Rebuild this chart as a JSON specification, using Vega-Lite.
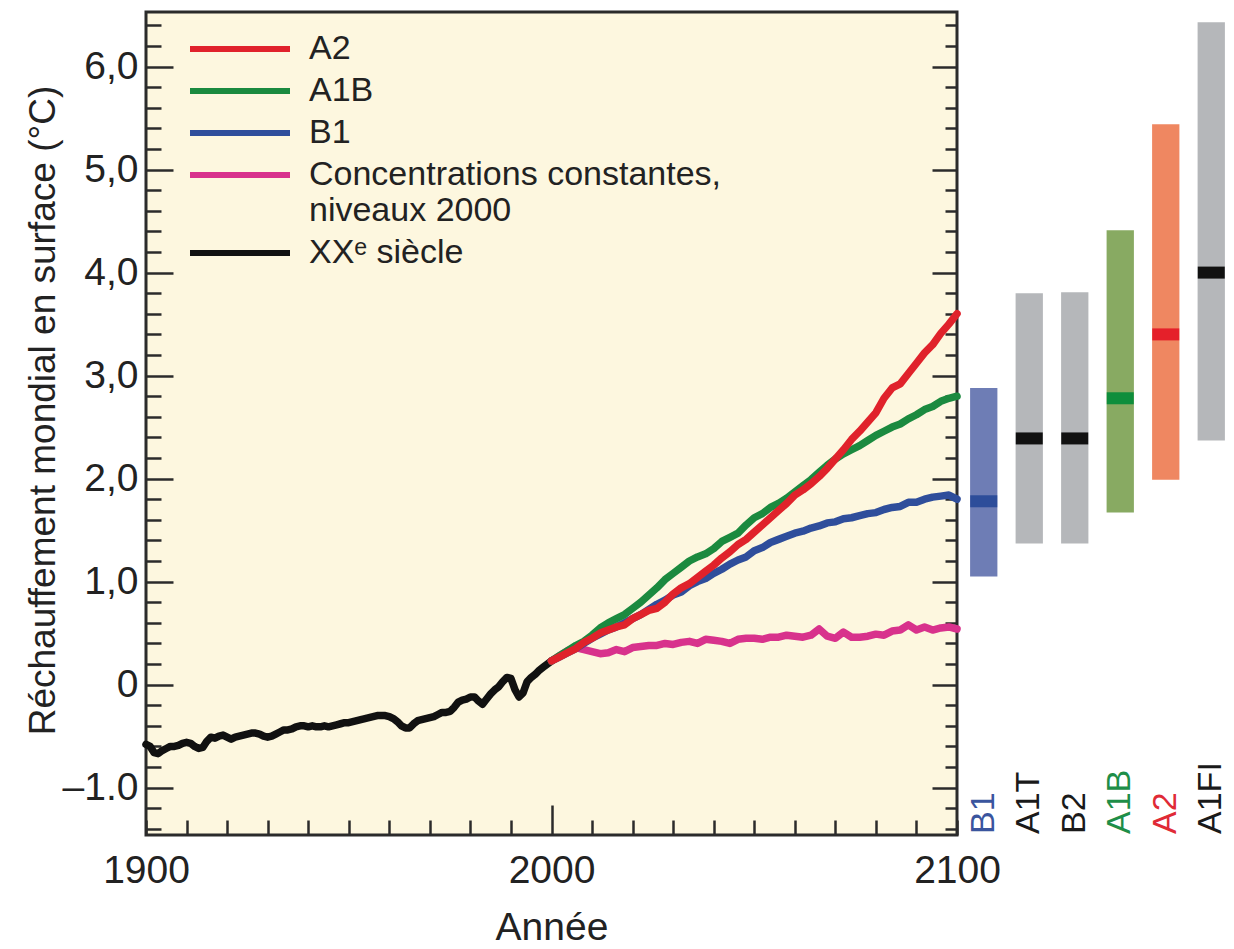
{
  "$schema": "https://vega.github.io/schema/vega-lite/v6.json",
  "background": "white",
  "padding": {"left": 22, "top": 4, "right": 0, "bottom": 0},
  "bounds": "flush",
  "spacing": 4,
  "config": {"font": "Liberation Sans", "view": {"stroke": null}},
  "resolve": {"scale": {"color": "independent", "y": "independent", "x": "independent"}},
  "datasets": {
    "scen": [
      {"scenario": "B1", "bas": 1.05, "haut": 2.88, "moyenne": 1.78},
      {"scenario": "A1T", "bas": 1.37, "haut": 3.80, "moyenne": 2.39},
      {"scenario": "B2", "bas": 1.37, "haut": 3.81, "moyenne": 2.39},
      {"scenario": "A1B", "bas": 1.67, "haut": 4.41, "moyenne": 2.78},
      {"scenario": "A2", "bas": 1.99, "haut": 5.44, "moyenne": 3.40},
      {"scenario": "A1FI", "bas": 2.37, "haut": 6.43, "moyenne": 4.00}
    ],
    "temp": [
      {"serie": "XXᵉ siècle", "annee": 1900, "valeur": -0.58},
      {"serie": "XXᵉ siècle", "annee": 1901, "valeur": -0.60},
      {"serie": "XXᵉ siècle", "annee": 1902, "valeur": -0.66},
      {"serie": "XXᵉ siècle", "annee": 1903, "valeur": -0.67},
      {"serie": "XXᵉ siècle", "annee": 1904, "valeur": -0.64},
      {"serie": "XXᵉ siècle", "annee": 1905, "valeur": -0.62},
      {"serie": "XXᵉ siècle", "annee": 1906, "valeur": -0.60},
      {"serie": "XXᵉ siècle", "annee": 1907, "valeur": -0.60},
      {"serie": "XXᵉ siècle", "annee": 1908, "valeur": -0.59},
      {"serie": "XXᵉ siècle", "annee": 1909, "valeur": -0.57},
      {"serie": "XXᵉ siècle", "annee": 1910, "valeur": -0.56},
      {"serie": "XXᵉ siècle", "annee": 1911, "valeur": -0.57},
      {"serie": "XXᵉ siècle", "annee": 1912, "valeur": -0.60},
      {"serie": "XXᵉ siècle", "annee": 1913, "valeur": -0.62},
      {"serie": "XXᵉ siècle", "annee": 1914, "valeur": -0.61},
      {"serie": "XXᵉ siècle", "annee": 1915, "valeur": -0.55},
      {"serie": "XXᵉ siècle", "annee": 1916, "valeur": -0.51},
      {"serie": "XXᵉ siècle", "annee": 1917, "valeur": -0.52},
      {"serie": "XXᵉ siècle", "annee": 1918, "valeur": -0.50},
      {"serie": "XXᵉ siècle", "annee": 1919, "valeur": -0.49},
      {"serie": "XXᵉ siècle", "annee": 1920, "valeur": -0.51},
      {"serie": "XXᵉ siècle", "annee": 1921, "valeur": -0.53},
      {"serie": "XXᵉ siècle", "annee": 1922, "valeur": -0.51},
      {"serie": "XXᵉ siècle", "annee": 1923, "valeur": -0.50},
      {"serie": "XXᵉ siècle", "annee": 1924, "valeur": -0.49},
      {"serie": "XXᵉ siècle", "annee": 1925, "valeur": -0.48},
      {"serie": "XXᵉ siècle", "annee": 1926, "valeur": -0.47},
      {"serie": "XXᵉ siècle", "annee": 1927, "valeur": -0.47},
      {"serie": "XXᵉ siècle", "annee": 1928, "valeur": -0.48},
      {"serie": "XXᵉ siècle", "annee": 1929, "valeur": -0.50},
      {"serie": "XXᵉ siècle", "annee": 1930, "valeur": -0.51},
      {"serie": "XXᵉ siècle", "annee": 1931, "valeur": -0.50},
      {"serie": "XXᵉ siècle", "annee": 1932, "valeur": -0.48},
      {"serie": "XXᵉ siècle", "annee": 1933, "valeur": -0.46},
      {"serie": "XXᵉ siècle", "annee": 1934, "valeur": -0.44},
      {"serie": "XXᵉ siècle", "annee": 1935, "valeur": -0.44},
      {"serie": "XXᵉ siècle", "annee": 1936, "valeur": -0.43},
      {"serie": "XXᵉ siècle", "annee": 1937, "valeur": -0.41},
      {"serie": "XXᵉ siècle", "annee": 1938, "valeur": -0.40},
      {"serie": "XXᵉ siècle", "annee": 1939, "valeur": -0.40},
      {"serie": "XXᵉ siècle", "annee": 1940, "valeur": -0.41},
      {"serie": "XXᵉ siècle", "annee": 1941, "valeur": -0.40},
      {"serie": "XXᵉ siècle", "annee": 1942, "valeur": -0.41},
      {"serie": "XXᵉ siècle", "annee": 1943, "valeur": -0.41},
      {"serie": "XXᵉ siècle", "annee": 1944, "valeur": -0.40},
      {"serie": "XXᵉ siècle", "annee": 1945, "valeur": -0.41},
      {"serie": "XXᵉ siècle", "annee": 1946, "valeur": -0.40},
      {"serie": "XXᵉ siècle", "annee": 1947, "valeur": -0.39},
      {"serie": "XXᵉ siècle", "annee": 1948, "valeur": -0.38},
      {"serie": "XXᵉ siècle", "annee": 1949, "valeur": -0.37},
      {"serie": "XXᵉ siècle", "annee": 1950, "valeur": -0.37},
      {"serie": "XXᵉ siècle", "annee": 1951, "valeur": -0.36},
      {"serie": "XXᵉ siècle", "annee": 1952, "valeur": -0.35},
      {"serie": "XXᵉ siècle", "annee": 1953, "valeur": -0.34},
      {"serie": "XXᵉ siècle", "annee": 1954, "valeur": -0.33},
      {"serie": "XXᵉ siècle", "annee": 1955, "valeur": -0.32},
      {"serie": "XXᵉ siècle", "annee": 1956, "valeur": -0.31},
      {"serie": "XXᵉ siècle", "annee": 1957, "valeur": -0.30},
      {"serie": "XXᵉ siècle", "annee": 1958, "valeur": -0.30},
      {"serie": "XXᵉ siècle", "annee": 1959, "valeur": -0.30},
      {"serie": "XXᵉ siècle", "annee": 1960, "valeur": -0.31},
      {"serie": "XXᵉ siècle", "annee": 1961, "valeur": -0.33},
      {"serie": "XXᵉ siècle", "annee": 1962, "valeur": -0.36},
      {"serie": "XXᵉ siècle", "annee": 1963, "valeur": -0.40},
      {"serie": "XXᵉ siècle", "annee": 1964, "valeur": -0.42},
      {"serie": "XXᵉ siècle", "annee": 1965, "valeur": -0.42},
      {"serie": "XXᵉ siècle", "annee": 1966, "valeur": -0.38},
      {"serie": "XXᵉ siècle", "annee": 1967, "valeur": -0.35},
      {"serie": "XXᵉ siècle", "annee": 1968, "valeur": -0.34},
      {"serie": "XXᵉ siècle", "annee": 1969, "valeur": -0.33},
      {"serie": "XXᵉ siècle", "annee": 1970, "valeur": -0.32},
      {"serie": "XXᵉ siècle", "annee": 1971, "valeur": -0.31},
      {"serie": "XXᵉ siècle", "annee": 1972, "valeur": -0.29},
      {"serie": "XXᵉ siècle", "annee": 1973, "valeur": -0.27},
      {"serie": "XXᵉ siècle", "annee": 1974, "valeur": -0.27},
      {"serie": "XXᵉ siècle", "annee": 1975, "valeur": -0.26},
      {"serie": "XXᵉ siècle", "annee": 1976, "valeur": -0.22},
      {"serie": "XXᵉ siècle", "annee": 1977, "valeur": -0.17},
      {"serie": "XXᵉ siècle", "annee": 1978, "valeur": -0.15},
      {"serie": "XXᵉ siècle", "annee": 1979, "valeur": -0.14},
      {"serie": "XXᵉ siècle", "annee": 1980, "valeur": -0.12},
      {"serie": "XXᵉ siècle", "annee": 1981, "valeur": -0.12},
      {"serie": "XXᵉ siècle", "annee": 1982, "valeur": -0.16},
      {"serie": "XXᵉ siècle", "annee": 1983, "valeur": -0.19},
      {"serie": "XXᵉ siècle", "annee": 1984, "valeur": -0.14},
      {"serie": "XXᵉ siècle", "annee": 1985, "valeur": -0.09},
      {"serie": "XXᵉ siècle", "annee": 1986, "valeur": -0.05},
      {"serie": "XXᵉ siècle", "annee": 1987, "valeur": -0.02},
      {"serie": "XXᵉ siècle", "annee": 1988, "valeur": 0.03},
      {"serie": "XXᵉ siècle", "annee": 1989, "valeur": 0.07},
      {"serie": "XXᵉ siècle", "annee": 1990, "valeur": 0.06},
      {"serie": "XXᵉ siècle", "annee": 1991, "valeur": -0.05},
      {"serie": "XXᵉ siècle", "annee": 1992, "valeur": -0.12},
      {"serie": "XXᵉ siècle", "annee": 1993, "valeur": -0.08},
      {"serie": "XXᵉ siècle", "annee": 1994, "valeur": 0.03},
      {"serie": "XXᵉ siècle", "annee": 1995, "valeur": 0.07},
      {"serie": "XXᵉ siècle", "annee": 1996, "valeur": 0.10},
      {"serie": "XXᵉ siècle", "annee": 1997, "valeur": 0.14},
      {"serie": "XXᵉ siècle", "annee": 1998, "valeur": 0.17},
      {"serie": "XXᵉ siècle", "annee": 1999, "valeur": 0.20},
      {"serie": "XXᵉ siècle", "annee": 2000, "valeur": 0.23},

      {"serie": "Concentrations constantes, niveaux 2000", "annee": 2000, "valeur": 0.23},
      {"serie": "Concentrations constantes, niveaux 2000", "annee": 2002, "valeur": 0.28},
      {"serie": "Concentrations constantes, niveaux 2000", "annee": 2004, "valeur": 0.33},
      {"serie": "Concentrations constantes, niveaux 2000", "annee": 2006, "valeur": 0.36},
      {"serie": "Concentrations constantes, niveaux 2000", "annee": 2008, "valeur": 0.34},
      {"serie": "Concentrations constantes, niveaux 2000", "annee": 2010, "valeur": 0.32},
      {"serie": "Concentrations constantes, niveaux 2000", "annee": 2012, "valeur": 0.30},
      {"serie": "Concentrations constantes, niveaux 2000", "annee": 2014, "valeur": 0.31},
      {"serie": "Concentrations constantes, niveaux 2000", "annee": 2016, "valeur": 0.34},
      {"serie": "Concentrations constantes, niveaux 2000", "annee": 2018, "valeur": 0.32},
      {"serie": "Concentrations constantes, niveaux 2000", "annee": 2020, "valeur": 0.36},
      {"serie": "Concentrations constantes, niveaux 2000", "annee": 2022, "valeur": 0.37},
      {"serie": "Concentrations constantes, niveaux 2000", "annee": 2024, "valeur": 0.38},
      {"serie": "Concentrations constantes, niveaux 2000", "annee": 2026, "valeur": 0.38},
      {"serie": "Concentrations constantes, niveaux 2000", "annee": 2028, "valeur": 0.40},
      {"serie": "Concentrations constantes, niveaux 2000", "annee": 2030, "valeur": 0.39},
      {"serie": "Concentrations constantes, niveaux 2000", "annee": 2032, "valeur": 0.41},
      {"serie": "Concentrations constantes, niveaux 2000", "annee": 2034, "valeur": 0.42},
      {"serie": "Concentrations constantes, niveaux 2000", "annee": 2036, "valeur": 0.40},
      {"serie": "Concentrations constantes, niveaux 2000", "annee": 2038, "valeur": 0.44},
      {"serie": "Concentrations constantes, niveaux 2000", "annee": 2040, "valeur": 0.43},
      {"serie": "Concentrations constantes, niveaux 2000", "annee": 2042, "valeur": 0.42},
      {"serie": "Concentrations constantes, niveaux 2000", "annee": 2044, "valeur": 0.40},
      {"serie": "Concentrations constantes, niveaux 2000", "annee": 2046, "valeur": 0.44},
      {"serie": "Concentrations constantes, niveaux 2000", "annee": 2048, "valeur": 0.45},
      {"serie": "Concentrations constantes, niveaux 2000", "annee": 2050, "valeur": 0.45},
      {"serie": "Concentrations constantes, niveaux 2000", "annee": 2052, "valeur": 0.44},
      {"serie": "Concentrations constantes, niveaux 2000", "annee": 2054, "valeur": 0.46},
      {"serie": "Concentrations constantes, niveaux 2000", "annee": 2056, "valeur": 0.46},
      {"serie": "Concentrations constantes, niveaux 2000", "annee": 2058, "valeur": 0.48},
      {"serie": "Concentrations constantes, niveaux 2000", "annee": 2060, "valeur": 0.47},
      {"serie": "Concentrations constantes, niveaux 2000", "annee": 2062, "valeur": 0.46},
      {"serie": "Concentrations constantes, niveaux 2000", "annee": 2064, "valeur": 0.48},
      {"serie": "Concentrations constantes, niveaux 2000", "annee": 2066, "valeur": 0.54},
      {"serie": "Concentrations constantes, niveaux 2000", "annee": 2068, "valeur": 0.47},
      {"serie": "Concentrations constantes, niveaux 2000", "annee": 2070, "valeur": 0.45},
      {"serie": "Concentrations constantes, niveaux 2000", "annee": 2072, "valeur": 0.51},
      {"serie": "Concentrations constantes, niveaux 2000", "annee": 2074, "valeur": 0.46},
      {"serie": "Concentrations constantes, niveaux 2000", "annee": 2076, "valeur": 0.46},
      {"serie": "Concentrations constantes, niveaux 2000", "annee": 2078, "valeur": 0.47},
      {"serie": "Concentrations constantes, niveaux 2000", "annee": 2080, "valeur": 0.49},
      {"serie": "Concentrations constantes, niveaux 2000", "annee": 2082, "valeur": 0.48},
      {"serie": "Concentrations constantes, niveaux 2000", "annee": 2084, "valeur": 0.52},
      {"serie": "Concentrations constantes, niveaux 2000", "annee": 2086, "valeur": 0.53},
      {"serie": "Concentrations constantes, niveaux 2000", "annee": 2088, "valeur": 0.58},
      {"serie": "Concentrations constantes, niveaux 2000", "annee": 2090, "valeur": 0.53},
      {"serie": "Concentrations constantes, niveaux 2000", "annee": 2092, "valeur": 0.56},
      {"serie": "Concentrations constantes, niveaux 2000", "annee": 2094, "valeur": 0.53},
      {"serie": "Concentrations constantes, niveaux 2000", "annee": 2096, "valeur": 0.55},
      {"serie": "Concentrations constantes, niveaux 2000", "annee": 2098, "valeur": 0.56},
      {"serie": "Concentrations constantes, niveaux 2000", "annee": 2100, "valeur": 0.54},

      {"serie": "B1", "annee": 2000, "valeur": 0.23},
      {"serie": "B1", "annee": 2002, "valeur": 0.27},
      {"serie": "B1", "annee": 2004, "valeur": 0.31},
      {"serie": "B1", "annee": 2006, "valeur": 0.35},
      {"serie": "B1", "annee": 2008, "valeur": 0.40},
      {"serie": "B1", "annee": 2010, "valeur": 0.45},
      {"serie": "B1", "annee": 2012, "valeur": 0.49},
      {"serie": "B1", "annee": 2014, "valeur": 0.53},
      {"serie": "B1", "annee": 2016, "valeur": 0.56},
      {"serie": "B1", "annee": 2018, "valeur": 0.60},
      {"serie": "B1", "annee": 2020, "valeur": 0.64},
      {"serie": "B1", "annee": 2022, "valeur": 0.68},
      {"serie": "B1", "annee": 2024, "valeur": 0.73},
      {"serie": "B1", "annee": 2026, "valeur": 0.78},
      {"serie": "B1", "annee": 2028, "valeur": 0.82},
      {"serie": "B1", "annee": 2030, "valeur": 0.87},
      {"serie": "B1", "annee": 2032, "valeur": 0.90},
      {"serie": "B1", "annee": 2034, "valeur": 0.96},
      {"serie": "B1", "annee": 2036, "valeur": 1.00},
      {"serie": "B1", "annee": 2038, "valeur": 1.03},
      {"serie": "B1", "annee": 2040, "valeur": 1.08},
      {"serie": "B1", "annee": 2042, "valeur": 1.12},
      {"serie": "B1", "annee": 2044, "valeur": 1.17},
      {"serie": "B1", "annee": 2046, "valeur": 1.21},
      {"serie": "B1", "annee": 2048, "valeur": 1.24},
      {"serie": "B1", "annee": 2050, "valeur": 1.30},
      {"serie": "B1", "annee": 2052, "valeur": 1.33},
      {"serie": "B1", "annee": 2054, "valeur": 1.38},
      {"serie": "B1", "annee": 2056, "valeur": 1.41},
      {"serie": "B1", "annee": 2058, "valeur": 1.44},
      {"serie": "B1", "annee": 2060, "valeur": 1.47},
      {"serie": "B1", "annee": 2062, "valeur": 1.49},
      {"serie": "B1", "annee": 2064, "valeur": 1.52},
      {"serie": "B1", "annee": 2066, "valeur": 1.54},
      {"serie": "B1", "annee": 2068, "valeur": 1.57},
      {"serie": "B1", "annee": 2070, "valeur": 1.58},
      {"serie": "B1", "annee": 2072, "valeur": 1.61},
      {"serie": "B1", "annee": 2074, "valeur": 1.62},
      {"serie": "B1", "annee": 2076, "valeur": 1.64},
      {"serie": "B1", "annee": 2078, "valeur": 1.66},
      {"serie": "B1", "annee": 2080, "valeur": 1.67},
      {"serie": "B1", "annee": 2082, "valeur": 1.70},
      {"serie": "B1", "annee": 2084, "valeur": 1.72},
      {"serie": "B1", "annee": 2086, "valeur": 1.73},
      {"serie": "B1", "annee": 2088, "valeur": 1.77},
      {"serie": "B1", "annee": 2090, "valeur": 1.77},
      {"serie": "B1", "annee": 2092, "valeur": 1.80},
      {"serie": "B1", "annee": 2094, "valeur": 1.82},
      {"serie": "B1", "annee": 2096, "valeur": 1.83},
      {"serie": "B1", "annee": 2098, "valeur": 1.84},
      {"serie": "B1", "annee": 2100, "valeur": 1.80},

      {"serie": "A1B", "annee": 2000, "valeur": 0.23},
      {"serie": "A1B", "annee": 2002, "valeur": 0.28},
      {"serie": "A1B", "annee": 2004, "valeur": 0.33},
      {"serie": "A1B", "annee": 2006, "valeur": 0.38},
      {"serie": "A1B", "annee": 2008, "valeur": 0.42},
      {"serie": "A1B", "annee": 2010, "valeur": 0.48},
      {"serie": "A1B", "annee": 2012, "valeur": 0.55},
      {"serie": "A1B", "annee": 2014, "valeur": 0.60},
      {"serie": "A1B", "annee": 2016, "valeur": 0.64},
      {"serie": "A1B", "annee": 2018, "valeur": 0.68},
      {"serie": "A1B", "annee": 2020, "valeur": 0.74},
      {"serie": "A1B", "annee": 2022, "valeur": 0.80},
      {"serie": "A1B", "annee": 2024, "valeur": 0.87},
      {"serie": "A1B", "annee": 2026, "valeur": 0.94},
      {"serie": "A1B", "annee": 2028, "valeur": 1.02},
      {"serie": "A1B", "annee": 2030, "valeur": 1.08},
      {"serie": "A1B", "annee": 2032, "valeur": 1.14},
      {"serie": "A1B", "annee": 2034, "valeur": 1.20},
      {"serie": "A1B", "annee": 2036, "valeur": 1.24},
      {"serie": "A1B", "annee": 2038, "valeur": 1.27},
      {"serie": "A1B", "annee": 2040, "valeur": 1.32},
      {"serie": "A1B", "annee": 2042, "valeur": 1.39},
      {"serie": "A1B", "annee": 2044, "valeur": 1.43},
      {"serie": "A1B", "annee": 2046, "valeur": 1.47},
      {"serie": "A1B", "annee": 2048, "valeur": 1.55},
      {"serie": "A1B", "annee": 2050, "valeur": 1.62},
      {"serie": "A1B", "annee": 2052, "valeur": 1.66},
      {"serie": "A1B", "annee": 2054, "valeur": 1.72},
      {"serie": "A1B", "annee": 2056, "valeur": 1.76},
      {"serie": "A1B", "annee": 2058, "valeur": 1.81},
      {"serie": "A1B", "annee": 2060, "valeur": 1.87},
      {"serie": "A1B", "annee": 2062, "valeur": 1.93},
      {"serie": "A1B", "annee": 2064, "valeur": 1.99},
      {"serie": "A1B", "annee": 2066, "valeur": 2.06},
      {"serie": "A1B", "annee": 2068, "valeur": 2.13},
      {"serie": "A1B", "annee": 2070, "valeur": 2.19},
      {"serie": "A1B", "annee": 2072, "valeur": 2.24},
      {"serie": "A1B", "annee": 2074, "valeur": 2.28},
      {"serie": "A1B", "annee": 2076, "valeur": 2.32},
      {"serie": "A1B", "annee": 2078, "valeur": 2.37},
      {"serie": "A1B", "annee": 2080, "valeur": 2.42},
      {"serie": "A1B", "annee": 2082, "valeur": 2.46},
      {"serie": "A1B", "annee": 2084, "valeur": 2.50},
      {"serie": "A1B", "annee": 2086, "valeur": 2.53},
      {"serie": "A1B", "annee": 2088, "valeur": 2.58},
      {"serie": "A1B", "annee": 2090, "valeur": 2.62},
      {"serie": "A1B", "annee": 2092, "valeur": 2.67},
      {"serie": "A1B", "annee": 2094, "valeur": 2.70},
      {"serie": "A1B", "annee": 2096, "valeur": 2.75},
      {"serie": "A1B", "annee": 2098, "valeur": 2.78},
      {"serie": "A1B", "annee": 2100, "valeur": 2.80},

      {"serie": "A2", "annee": 2000, "valeur": 0.23},
      {"serie": "A2", "annee": 2002, "valeur": 0.27},
      {"serie": "A2", "annee": 2004, "valeur": 0.31},
      {"serie": "A2", "annee": 2006, "valeur": 0.35},
      {"serie": "A2", "annee": 2008, "valeur": 0.41},
      {"serie": "A2", "annee": 2010, "valeur": 0.45},
      {"serie": "A2", "annee": 2012, "valeur": 0.50},
      {"serie": "A2", "annee": 2014, "valeur": 0.53},
      {"serie": "A2", "annee": 2016, "valeur": 0.56},
      {"serie": "A2", "annee": 2018, "valeur": 0.58},
      {"serie": "A2", "annee": 2020, "valeur": 0.64},
      {"serie": "A2", "annee": 2022, "valeur": 0.68},
      {"serie": "A2", "annee": 2024, "valeur": 0.72},
      {"serie": "A2", "annee": 2026, "valeur": 0.74},
      {"serie": "A2", "annee": 2028, "valeur": 0.80},
      {"serie": "A2", "annee": 2030, "valeur": 0.88},
      {"serie": "A2", "annee": 2032, "valeur": 0.94},
      {"serie": "A2", "annee": 2034, "valeur": 0.98},
      {"serie": "A2", "annee": 2036, "valeur": 1.04},
      {"serie": "A2", "annee": 2038, "valeur": 1.10},
      {"serie": "A2", "annee": 2040, "valeur": 1.16},
      {"serie": "A2", "annee": 2042, "valeur": 1.23},
      {"serie": "A2", "annee": 2044, "valeur": 1.29},
      {"serie": "A2", "annee": 2046, "valeur": 1.36},
      {"serie": "A2", "annee": 2048, "valeur": 1.41},
      {"serie": "A2", "annee": 2050, "valeur": 1.48},
      {"serie": "A2", "annee": 2052, "valeur": 1.55},
      {"serie": "A2", "annee": 2054, "valeur": 1.62},
      {"serie": "A2", "annee": 2056, "valeur": 1.69},
      {"serie": "A2", "annee": 2058, "valeur": 1.76},
      {"serie": "A2", "annee": 2060, "valeur": 1.84},
      {"serie": "A2", "annee": 2062, "valeur": 1.89},
      {"serie": "A2", "annee": 2064, "valeur": 1.95},
      {"serie": "A2", "annee": 2066, "valeur": 2.02},
      {"serie": "A2", "annee": 2068, "valeur": 2.10},
      {"serie": "A2", "annee": 2070, "valeur": 2.19},
      {"serie": "A2", "annee": 2072, "valeur": 2.28},
      {"serie": "A2", "annee": 2074, "valeur": 2.38},
      {"serie": "A2", "annee": 2076, "valeur": 2.46},
      {"serie": "A2", "annee": 2078, "valeur": 2.55},
      {"serie": "A2", "annee": 2080, "valeur": 2.64},
      {"serie": "A2", "annee": 2082, "valeur": 2.78},
      {"serie": "A2", "annee": 2084, "valeur": 2.88},
      {"serie": "A2", "annee": 2086, "valeur": 2.92},
      {"serie": "A2", "annee": 2088, "valeur": 3.02},
      {"serie": "A2", "annee": 2090, "valeur": 3.12},
      {"serie": "A2", "annee": 2092, "valeur": 3.22},
      {"serie": "A2", "annee": 2094, "valeur": 3.30},
      {"serie": "A2", "annee": 2096, "valeur": 3.41},
      {"serie": "A2", "annee": 2098, "valeur": 3.50},
      {"serie": "A2", "annee": 2100, "valeur": 3.60}
    ]
  },
  "hconcat": [
    {
      "width": 811,
      "height": 823,
      "view": {"fill": "#FDF7DF", "stroke": "#2b2b2b", "strokeWidth": 3},
      "data": {"name": "temp"},
      "layer": [
        {
          "mark": {"type": "line", "strokeWidth": 7.5, "strokeCap": "round", "strokeJoin": "round"},
          "encoding": {
            "x": {
              "field": "annee", "type": "quantitative",
              "scale": {"domain": [1900, 2100], "nice": false, "zero": false},
              "axis": {
                "title": "Année", "titleFontSize": 39, "titleFontWeight": "normal", "titleColor": "#222", "titlePadding": 18,
                "values": [1900, 1910, 1920, 1930, 1940, 1950, 1960, 1970, 1980, 1990, 2000, 2010, 2020, 2030, 2040, 2050, 2060, 2070, 2080, 2090, 2100],
                "labelExpr": "datum.value % 100 == 0 ? format(datum.value, 'd') : ''",
                "labelFontSize": 39, "labelColor": "#222", "labelFlush": false, "labelOverlap": false,
                "labelPadding": {"condition": {"test": "datum.value == 2000", "value": 46}, "value": 31},
                "tickSize": {"condition": {"test": "datum.value == 2000", "value": -30}, "value": -15},
                "tickColor": "#2b2b2b", "tickWidth": 2.5, "domain": false, "grid": false
              }
            },
            "y": {
              "field": "valeur", "type": "quantitative",
              "scale": {"domain": [-1.46, 6.53], "nice": false, "zero": false},
              "axis": {
                "title": "Réchauffement mondial en surface (°C)", "titleFontSize": 37, "titleFontWeight": "normal", "titleColor": "#222", "titlePadding": 0, "titleY": 398,
                "values": [-1.4, -1.2, -1.0, -0.8, -0.6, -0.4, -0.2, 0, 0.2, 0.4, 0.6, 0.8, 1.0, 1.2, 1.4, 1.6, 1.8, 2.0, 2.2, 2.4, 2.6, 2.8, 3.0, 3.2, 3.4, 3.6, 3.8, 4.0, 4.2, 4.4, 4.6, 4.8, 5.0, 5.2, 5.4, 5.6, 5.8, 6.0, 6.2, 6.4],
                "labelExpr": "abs(datum.value - round(datum.value)) < 0.01 ? (datum.value == 0 ? '0' : (datum.value == -1 ? '–1.0' : replace(format(datum.value, '.1f'), '.', ','))) : ''",
                "labelFontSize": 39, "labelColor": "#222", "labelPadding": 35, "labelOverlap": false,
                "tickSize": {"condition": {"test": "abs(datum.value - round(datum.value)) < 0.01", "value": -27}, "value": -15},
                "tickColor": "#2b2b2b", "tickWidth": 2.5, "domain": false, "grid": false
              }
            },
            "color": {
              "field": "serie", "type": "nominal",
              "scale": {
                "domain": ["A2", "A1B", "B1", "Concentrations constantes, niveaux 2000", "XXᵉ siècle"],
                "range": ["#E0222B", "#1B8A3F", "#2F4E9B", "#D8328C", "#111111"]
              },
              "legend": {
                "title": null, "orient": "none", "legendX": 77, "legendY": 20,
                "symbolType": "M-10,0H10", "symbolStrokeWidth": 6, "symbolSize": 100,
                "labelFontSize": 34, "labelColor": "#222", "labelOffset": 52, "labelLimit": 700,
                "rowPadding": 8, "padding": 0,
                "labelExpr": "datum.label == 'Concentrations constantes, niveaux 2000' ? ['Concentrations constantes,', 'niveaux 2000'] : datum.label"
              }
            }
          }
        },
        {
          "mark": {"type": "point", "opacity": 0},
          "encoding": {
            "y": {
              "field": "valeur", "type": "quantitative",
              "axis": {
                "orient": "right", "title": null, "labels": false, "domain": false, "grid": false,
                "values": [-1.4, -1.2, -1.0, -0.8, -0.6, -0.4, -0.2, 0, 0.2, 0.4, 0.6, 0.8, 1.0, 1.2, 1.4, 1.6, 1.8, 2.0, 2.2, 2.4, 2.6, 2.8, 3.0, 3.2, 3.4, 3.6, 3.8, 4.0, 4.2, 4.4, 4.6, 4.8, 5.0, 5.2, 5.4, 5.6, 5.8, 6.0, 6.2, 6.4],
                "tickSize": {"condition": {"test": "abs(datum.value - round(datum.value)) < 0.01", "value": -25}, "value": -12},
                "tickColor": "#2b2b2b", "tickWidth": 2.5
              }
            }
          }
        }
      ],
      "resolve": {"axis": {"y": "independent"}}
    },
    {
      "width": 273,
      "height": 823,
      "data": {"name": "scen"},
      "layer": [
        {
          "mark": {"type": "bar", "width": {"band": 0.6}},
          "encoding": {
            "x": {"field": "scenario", "type": "nominal", "sort": null, "scale": {"domain": ["B1", "A1T", "B2", "A1B", "A2", "A1FI"], "paddingInner": 0, "paddingOuter": 0}, "axis": null},
            "y": {"field": "bas", "type": "quantitative", "scale": {"domain": [-1.46, 6.53], "nice": false, "zero": false}, "axis": null},
            "y2": {"field": "haut"},
            "color": {"field": "scenario", "type": "nominal", "scale": {"domain": ["B1", "A1T", "B2", "A1B", "A2", "A1FI"], "range": ["#6E7DB5", "#B5B7BA", "#B5B7BA", "#88AA62", "#EF8761", "#B5B7BA"]}, "legend": null}
          }
        },
        {
          "mark": {"type": "tick", "thickness": 12, "size": 27, "opacity": 1},
          "encoding": {
            "x": {"field": "scenario", "type": "nominal", "sort": null, "axis": null},
            "y": {"field": "moyenne", "type": "quantitative", "axis": null},
            "color": {"field": "scenario", "type": "nominal", "scale": {"domain": ["B1", "A1T", "B2", "A1B", "A2", "A1FI"], "range": ["#2D4D9A", "#111111", "#111111", "#0E8E3C", "#E5202A", "#111111"]}, "legend": null}
          }
        },
        {
          "mark": {"type": "text", "angle": 270, "align": "left", "baseline": "middle", "fontSize": 34},
          "encoding": {
            "x": {"field": "scenario", "type": "nominal", "sort": null, "axis": null},
            "y": {"datum": -1.45},
            "text": {"field": "scenario"},
            "color": {"field": "scenario", "type": "nominal", "scale": {"domain": ["B1", "A1T", "B2", "A1B", "A2", "A1FI"], "range": ["#3A559E", "#1a1a1a", "#1a1a1a", "#1E8E48", "#E02A36", "#1a1a1a"]}, "legend": null}
          }
        }
      ],
      "resolve": {"scale": {"color": "independent"}}
    }
  ]
}
